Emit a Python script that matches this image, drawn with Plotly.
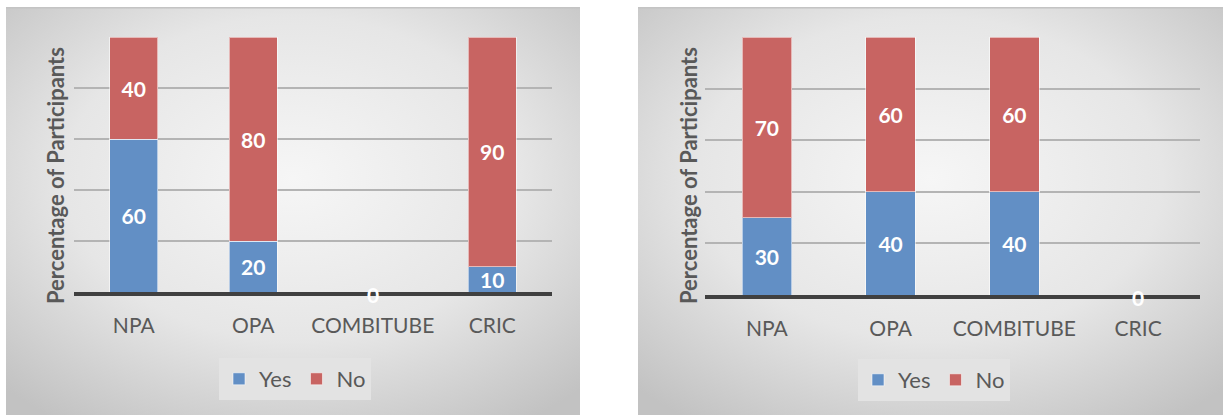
import base64
import plotly.graph_objects as go

categories = ["NPA", "OPA", "COMBITUBE", "CRIC"]
left_yes = [60, 20, 0, 10]
left_no = [40, 80, 0, 90]
right_yes = [30, 40, 40, 0]
right_no = [70, 60, 60, 0]
y_title = "Percentage of Participants"

W, H = 1223, 415
BLUE = "#628fc5"
RED = "#c86462"
FONT = "Lato"

svg = (
    '<svg xmlns="http://www.w3.org/2000/svg" width="600" height="400" viewBox="0 0 600 400" preserveAspectRatio="none">'
    '<defs><radialGradient id="g" cx="50%" cy="42%" r="72%">'
    '<stop offset="0%" stop-color="#f6f6f6"/><stop offset="55%" stop-color="#e6e6e6"/>'
    '<stop offset="100%" stop-color="#c2c2c2"/></radialGradient></defs>'
    '<rect x="0" y="0" width="600" height="400" fill="url(#g)"/>'
    '<rect x="0" y="0" width="600" height="1.5" fill="#c4c4c4"/></svg>'
)
src = "data:image/svg+xml;base64," + base64.b64encode(svg.encode()).decode()


def px(x):
    return x / W


def py(y):
    return 1 - y / H


fig = go.Figure()
annotations = []
label_font = dict(family=FONT, size=21, color="white", weight="bold")


def add_panel(yes, no, xa, ya, legend):
    for name, vals, col in (("Yes", yes, BLUE), ("No", no, RED)):
        fig.add_trace(go.Bar(
            x=categories, y=vals, name=name, xaxis=xa, yaxis=ya, legend=legend,
            marker=dict(color=col, line=dict(color="rgba(255,255,255,0.55)", width=1)),
            text=[str(v) if v else "" for v in vals], textposition="inside",
            insidetextanchor="middle", textangle=0,
            textfont=label_font, width=0.4,
        ))
    for c, a, b in zip(categories, yes, no):
        if a == 0 and b == 0:
            annotations.append(dict(x=c, y=a, xref=xa, yref=ya, text=str(a), showarrow=False,
                                    yshift=-2, font=label_font))


add_panel(left_yes, left_no, "x", "y", "legend")
add_panel(right_yes, right_no, "x2", "y2", "legend2")

xcommon = dict(showgrid=False, showline=True, linewidth=4, linecolor="#404040",
               ticks="", tickfont=dict(family=FONT, size=21, color="#595959"),
               ticklabelstandoff=12, automargin=False, fixedrange=True)
ycommon = dict(range=[0, 100], dtick=20, showgrid=True, gridcolor="#b4b4b4", gridwidth=1.5,
               showticklabels=False, zeroline=False, showline=False, automargin=False,
               fixedrange=True, layer="below traces")

legend_common = dict(orientation="h", xanchor="center", yanchor="middle",
                     bgcolor="#e3e3e3", font=dict(family=FONT, size=22, color="#595959"),
                     itemwidth=30, tracegroupgap=0, traceorder="normal")

title_font = dict(family=FONT, size=22, color="#595959", weight="bold")
annotations += [
    dict(text=y_title, xref="paper", yref="paper", x=px(55), y=py(176), textangle=-90,
         xanchor="center", yanchor="middle", showarrow=False, font=title_font),
    dict(text=y_title, xref="paper", yref="paper", x=px(688), y=py(176), textangle=-90,
         xanchor="center", yanchor="middle", showarrow=False, font=title_font),
]

fig.update_layout(
    width=W, height=H, margin=dict(l=0, r=0, t=0, b=0),
    paper_bgcolor="white", plot_bgcolor="rgba(0,0,0,0)",
    barmode="stack",
    uniformtext=dict(minsize=21, mode="show"),
    xaxis=dict(domain=[px(74), px(552)], anchor="y", **xcommon),
    yaxis=dict(domain=[py(292), py(37)], anchor="x", **ycommon),
    xaxis2=dict(domain=[px(705), px(1200)], anchor="y2", **xcommon),
    yaxis2=dict(domain=[py(295), py(37)], anchor="x2", **ycommon),
    legend=dict(x=px(295), y=py(379), **legend_common),
    legend2=dict(x=px(934), y=py(380), **legend_common),
    images=[
        dict(source=src, xref="paper", yref="paper", x=px(6), y=py(7), sizex=px(580) - px(6),
             sizey=py(7) - py(415), xanchor="left", yanchor="top", sizing="stretch", layer="below"),
        dict(source=src, xref="paper", yref="paper", x=px(638), y=py(7), sizex=px(1223) - px(638),
             sizey=py(7) - py(415), xanchor="left", yanchor="top", sizing="stretch", layer="below"),
    ],
    annotations=annotations,
    showlegend=True,
)

fig.write_html("out.html")
